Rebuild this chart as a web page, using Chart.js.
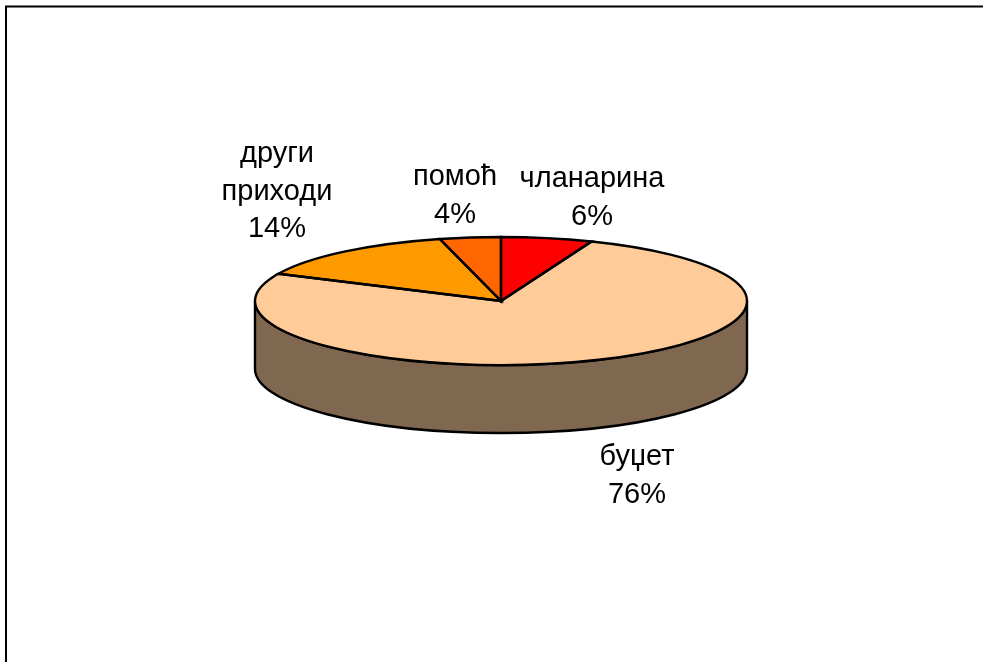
<!DOCTYPE html>
<html>
<head>
<meta charset="utf-8">
<style>
  html, body { margin: 0; padding: 0; background: #fff; overflow: hidden; }
  #wrap { width: 983px; height: 662px; position: relative; }
</style>
<script src="https://cdn.jsdelivr.net/npm/chart.js@4/dist/chart.umd.min.js"></script>
</head>
<body>
<div id="wrap"><canvas id="pie" width="983" height="662"></canvas></div>
<script>
'use strict';

/* data, clockwise from the top of the pie */
const categories = ['чланарина', 'буџет', 'други приходи', 'помоћ'];
const shares = [6, 76, 14, 4];
const sliceColors = ['#ff0000', '#ffcc99', '#ff9900', '#ff6600'];
const labelLines = [['чланарина', '6%'], ['буџет', '76%'], ['други', 'приходи', '14%'], ['помоћ', '4%']];

/* pie shape on the page */
const TILT = 64 / 246;      // vertical squash of the disc
const DEPTH = 68;           // wall height in px
const WALL = '#806850';

// label centres, relative to the pie centre (first line baseline)
const labelAnchors = [[91, -114], [136, 164], [-224, -139], [-46, -116]];

function squash(ctx, x, y) {
    ctx.translate(x, y);
    ctx.scale(1, TILT);
    ctx.translate(-x, -y);
}

const tiltedPie = {
    id: 'tiltedPie',
    beforeDatasetsDraw(chart) {
        const ctx = chart.ctx;
        const { x, y, outerRadius } = chart.getDatasetMeta(0).data[0];
        const ry = outerRadius * TILT;

        // wall: front half of the rim pushed down by DEPTH
        ctx.save();
        ctx.beginPath();
        ctx.ellipse(x, y, outerRadius, ry, 0, Math.PI, 0, true);
        ctx.lineTo(x + outerRadius, y + DEPTH);
        ctx.ellipse(x, y + DEPTH, outerRadius, ry, 0, 0, Math.PI, false);
        ctx.closePath();
        ctx.fillStyle = WALL;
        ctx.fill();
        ctx.lineWidth = 2.4;
        ctx.strokeStyle = '#000';
        ctx.stroke();
        ctx.restore();

        ctx.save();
        squash(ctx, x, y);
    },
    afterDatasetsDraw(chart) {
        const ctx = chart.ctx;
        ctx.restore();

        const { x, y, outerRadius } = chart.getDatasetMeta(0).data[0];
        // redraw outlines at an even width, the squash thins them
        ctx.save();
        ctx.lineWidth = 2.4;
        ctx.strokeStyle = '#000';
        chart.getDatasetMeta(0).data.forEach(arc => {
            ctx.beginPath();
            ctx.moveTo(x, y);
            ctx.ellipse(x, y, outerRadius, outerRadius * TILT, 0, arc.startAngle, arc.endAngle);
            ctx.closePath();
            ctx.stroke();
        });
        ctx.restore();

        // labels
        ctx.save();
        ctx.fillStyle = '#000';
        ctx.font = '29px "Liberation Sans"';
        ctx.textAlign = 'center';
        ctx.textBaseline = 'alphabetic';
        labelLines.forEach((lines, i) => {
            lines.forEach((line, j) => {
                ctx.fillText(line, x + labelAnchors[i][0], y + labelAnchors[i][1] + j * 37.5);
            });
        });
        ctx.restore();
    }
};

// only the left and top edges of the frame are in the picture
const pageFrame = {
    id: 'pageFrame',
    beforeDraw(chart) {
        const ctx = chart.ctx;
        ctx.save();
        ctx.fillStyle = '#fff';
        ctx.fillRect(0, 0, chart.width, chart.height);
        ctx.strokeStyle = '#000';
        ctx.lineWidth = 2;
        ctx.beginPath();
        ctx.moveTo(6, 662);
        ctx.lineTo(6, 6.5);
        ctx.lineTo(983, 6.5);
        ctx.stroke();
        ctx.restore();
    }
};

new Chart(document.getElementById('pie').getContext('2d'), {
    type: 'pie',
    data: {
        labels: categories,
        datasets: [{
            data: shares,
            backgroundColor: sliceColors,
            borderWidth: 0,
            radius: 246,
        }],
    },
    options: {
        responsive: false,
        animation: false,
        layout: { padding: { left: 19, bottom: 60 } },
        plugins: {
            legend: { display: false },
            tooltip: { enabled: false },
        },
    },
    plugins: [pageFrame, tiltedPie],
});
</script>
</body>
</html>
